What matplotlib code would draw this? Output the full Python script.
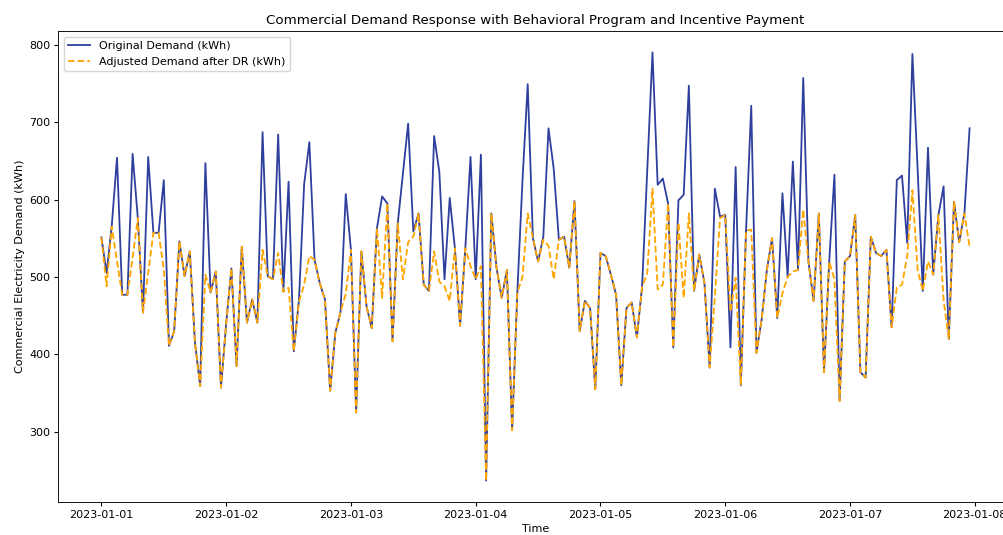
import numpy as np
import pandas as pd
import matplotlib
matplotlib.use("Agg")
import matplotlib.pyplot as plt
import matplotlib.dates as mdates

# hourly readings, 2023-01-01 00:00 .. 2023-01-07 23:00
original = [
    551, 505, 567, 654, 477, 477, 659, 576, 454, 655, 557, 557, 625, 411, 430, 546,
    501, 533, 415, 359, 647, 480, 507, 357, 440, 511, 385, 539, 441, 471, 441, 687,
    501, 497, 684, 481, 623, 404, 470, 620, 674, 522, 492, 471, 353, 428, 455, 607,
    535, 325, 533, 462, 434, 563, 604, 595, 417, 569, 634, 698, 559, 582, 490, 482,
    682, 636, 497, 602, 537, 437, 537, 655, 497, 658, 237, 582, 512, 473, 509, 302,
    480, 625, 749, 550, 520, 552, 692, 640, 548, 552, 512, 598, 430, 469, 460, 355,
    531, 527, 503, 477, 360, 460, 467, 422, 487, 640, 790, 619, 627, 595, 409, 599,
    606, 747, 482, 529, 492, 383, 614, 578, 580, 409, 642, 360, 560, 721, 402, 445,
    509, 550, 447, 608, 500, 649, 509, 757, 520, 469, 582, 377, 520, 632, 340, 520,
    527, 580, 377, 370, 552, 531, 527, 535, 435, 625, 631, 544, 788, 640, 482, 667,
    503, 580, 617, 420, 597, 545, 582, 692,
]
adjusted = [
    551, 488, 565, 520, 477, 477, 525, 576, 454, 505, 557, 557, 510, 411, 430, 546,
    501, 533, 415, 359, 503, 480, 507, 357, 440, 511, 385, 539, 441, 471, 441, 535,
    501, 497, 531, 481, 486, 404, 468, 490, 527, 522, 492, 471, 353, 428, 455, 478,
    535, 325, 533, 462, 434, 563, 473, 595, 417, 569, 497, 545, 552, 582, 490, 482,
    533, 494, 488, 469, 537, 437, 537, 514, 497, 514, 237, 582, 512, 473, 509, 302,
    480, 500, 582, 550, 520, 548, 540, 497, 548, 552, 512, 598, 430, 469, 460, 355,
    531, 527, 503, 477, 360, 460, 467, 422, 487, 505, 614, 484, 490, 595, 409, 570,
    473, 582, 482, 529, 492, 383, 475, 576, 580, 455, 499, 360, 560, 561, 402, 445,
    509, 550, 447, 479, 500, 507, 509, 587, 520, 469, 582, 377, 520, 497, 340, 520,
    527, 580, 377, 370, 552, 531, 527, 535, 435, 486, 490, 527, 612, 509, 482, 520,
    503, 580, 470, 420, 597, 545, 582, 539,
]
time = pd.date_range("2023-01-01", periods=len(original), freq="h")

# reference looks like a larger figure shrunk by ~0.8
s = 0.8
plt.rcParams.update({
    "font.size": 10 * s,
    "axes.titlesize": 12 * s,
    "xtick.major.size": 3.5 * s,
    "ytick.major.size": 3.5 * s,
    "xtick.major.pad": 3.5 * s,
    "ytick.major.pad": 3.5 * s,
    "axes.titlepad": 6 * s,
    "axes.labelpad": 4 * s,
    "axes.linewidth": 0.8 * s,
})

fig = plt.figure(figsize=(10.04, 5.35), dpi=100)
ax = fig.add_axes([58 / 1004, 33 / 535, (1013 - 58) / 1004, (502 - 31) / 535])

ax.plot(time, original, color="#2e3f9e", linewidth=1.3, label="Original Demand (kWh)")
ax.plot(time, adjusted, color="orange", linestyle="--", linewidth=1.3,
        label="Adjusted Demand after DR (kWh)")

ax.xaxis.set_major_locator(mdates.DayLocator())
ax.xaxis.set_major_formatter(mdates.DateFormatter("%Y-%m-%d"))
ax.set_title("Commercial Demand Response with Behavioral Program and Incentive Payment")
ax.set_xlabel("Time")
ax.set_ylabel("Commercial Electricity Demand (kWh)")
ax.legend(loc="upper left")

fig.savefig("out.png", dpi=100)
